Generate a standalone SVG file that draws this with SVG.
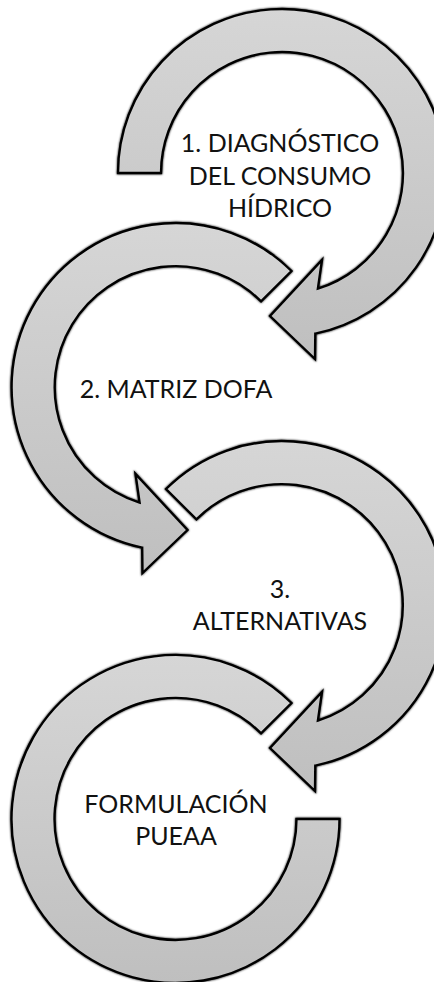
<svg xmlns="http://www.w3.org/2000/svg" width="434" height="982" viewBox="0 0 434 982">
  <defs>
    <linearGradient id="g" x1="0" y1="0" x2="0" y2="1">
      <stop offset="0" stop-color="#d6d6d6"/>
      <stop offset="1" stop-color="#bfbfbf"/>
    </linearGradient>
    <filter id="soft" x="-5%" y="-5%" width="110%" height="110%">
      <feGaussianBlur in="SourceAlpha" stdDeviation="1"/>
      <feOffset dx="0" dy="0" result="b"/>
      <feMerge><feMergeNode in="b"/><feMergeNode in="SourceGraphic"/></feMerge>
    </filter>
  </defs>
  <style>
    .arrow { fill: url(#g); stroke: #000; stroke-width: 2.4; stroke-linejoin: miter; filter: url(#soft); }
    .lbl { font-family: Lato, "Open Sans", "Liberation Sans", sans-serif; font-size: 25px; fill: #111; text-anchor: middle; }
  </style>
  <rect width="434" height="982" fill="#fff"/>
  <g id="connectors"/>
  <g id="node1">
    <path class="arrow" d="M 118 173 A 164 164 0 1 1 315.3 333.6 L 315 359 L 270 316 L 322 260 L 317.9 288.6 A 121 121 0 1 0 161 173 Z"/>
    <text class="lbl"><tspan x="280" y="152">1. DIAGNÓSTICO</tspan><tspan x="280" y="185">DEL CONSUMO</tspan><tspan x="280" y="217">HÍDRICO</tspan></text>
  </g>
  <g id="node2">
    <path class="arrow" d="M 291.5 271 A 164 164 0 1 0 142.2 547.6 L 142.5 573 L 187.5 530 L 135.5 474 L 139.6 502.6 A 121 121 0 1 1 261.1 301.4 Z"/>
    <text class="lbl"><tspan x="176" y="398">2. MATRIZ DOFA</tspan></text>
  </g>
  <g id="node3">
    <path class="arrow" d="M 166 489 A 164 164 0 1 1 315.3 765.6 L 315 791 L 270 748 L 322 692 L 317.9 720.6 A 121 121 0 1 0 196.4 519.4 Z"/>
    <text class="lbl"><tspan x="280" y="598">3.</tspan><tspan x="280" y="630">ALTERNATIVAS</tspan></text>
  </g>
  <g id="node4">
    <path class="arrow" d="M 291.5 703 A 164 164 0 1 0 339.5 819 L 296.5 819 A 121 121 0 1 1 261.1 733.4 Z"/>
    <text class="lbl"><tspan x="176" y="813">FORMULACIÓN</tspan><tspan x="176" y="845">PUEAA</tspan></text>
  </g>
</svg>
